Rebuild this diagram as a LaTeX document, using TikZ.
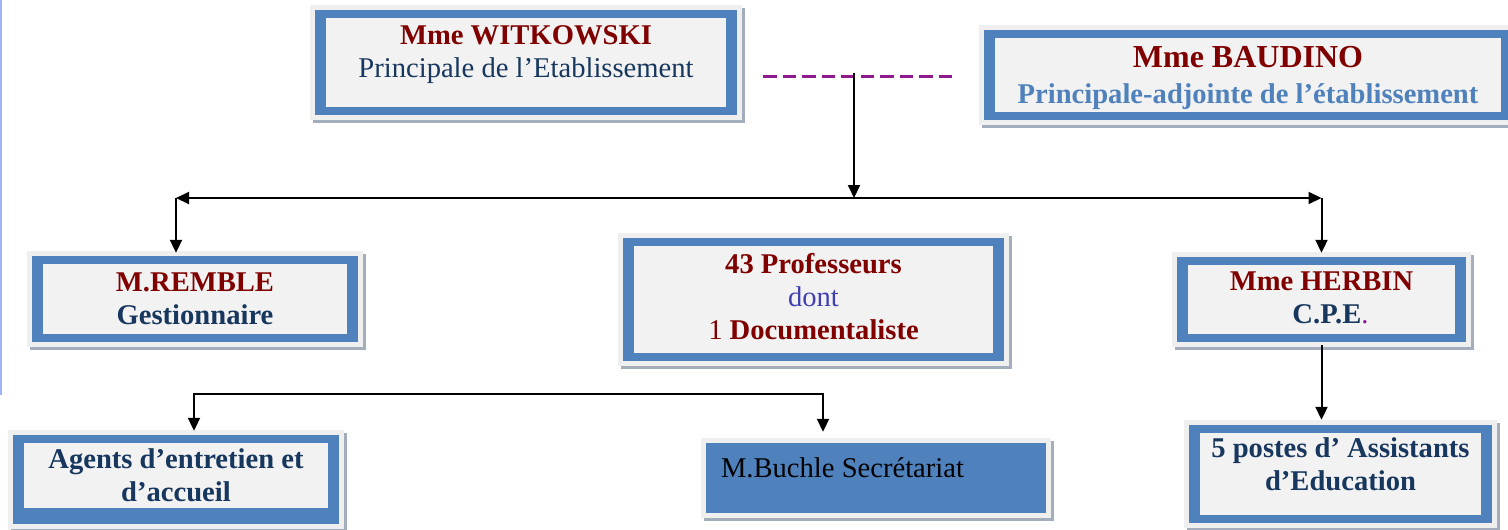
\documentclass[tikz,border=0pt]{standalone}
\usepackage{fontspec}
\setmainfont{Liberation Serif}
\usetikzlibrary{arrows.meta,calc}

\definecolor{boxblue}{HTML}{4F81BD}
\definecolor{boxgray}{HTML}{F2F2F2}
\definecolor{framegray}{HTML}{EFEFEF}
\definecolor{shadowgray}{HTML}{A3ADBC}
\definecolor{namered}{HTML}{800000}
\definecolor{titleblue}{HTML}{17375E}
\definecolor{dontblue}{HTML}{3F3FAF}
\definecolor{dashpurple}{HTML}{8E1A8E}
\definecolor{edgeblue}{HTML}{9DB3F5}

\newcommand{\headname}[1]{{\bfseries\color{namered}#1}}
\newcommand{\jobline}[1]{{\bfseries\color{titleblue}#1}}
\newcommand{\lowpad}[1]{\rule[-#1pt]{0pt}{1pt}}

\tikzset{inset bottom/.initial=8pt}

\begin{document}
\begin{tikzpicture}[x=1pt,y=-1pt,
  font=\fontsize{28.6pt}{33pt}\selectfont,
  >={Triangle[length=13pt,width=12pt]},
  frame/.style={rectangle,inner sep=0pt,fill=boxblue,
    preaction={fill=shadowgray,draw=shadowgray,line width=10pt,
      transform canvas={shift={(3pt,-3pt)}}},
    preaction={fill=framegray,draw=framegray,line width=10pt}},
  orgbox/.style={frame,align=center,
    path picture={\fill[boxgray]
      ($(path picture bounding box.south west)+(11pt,\pgfkeysvalueof{/tikz/inset bottom})$) rectangle
      ($(path picture bounding box.north east)+(-11pt,-8pt)$);}},
  link/.style={draw=black,line width=2pt},
  dashlink/.style={draw=dashpurple,line width=3pt,dash pattern=on 13.5pt off 6pt}]

  \useasboundingbox (0,0) rectangle (1508,530);
  \draw[edgeblue,line width=1.5pt] (0.75,0) -- (0.75,395);

  \node[orgbox,minimum width=422pt,minimum height=105pt] (witkowski) [at={(526,62.5)}]
    {\headname{Mme WITKOWSKI}\\{\color{titleblue}Principale de l’Etablissement}\lowpad{21}};
  \node[orgbox,minimum width=528pt,minimum height=90pt] (baudino) [at={(1248,75)}]
    {\rule{0pt}{28pt}{\fontsize{32pt}{36pt}\selectfont\headname{Mme BAUDINO}}\\[3pt]{\bfseries\color{boxblue}Principale-adjointe de l’établissement}};

  \node[orgbox,minimum width=326pt,minimum height=86pt] (remble) [at={(195,299)}]
    {\headname{M.REMBLE}\\\jobline{Gestionnaire}};
  \node[orgbox,minimum width=381pt,minimum height=123pt] (profs) [at={(813.5,299.5)}]
    {\headname{43 Professeurs}\\{\color{dontblue}dont}\\{\color{namered}1 \bfseries Documentaliste}\lowpad{6}};
  \node[orgbox,minimum width=289pt,minimum height=85pt] (herbin) [at={(1321.5,299.5)}]
    {\headname{Mme HERBIN}\\\hspace*{18pt}\jobline{C.P.E}{\color{dashpurple}.}\lowpad{3}};

  \node[orgbox,inset bottom=16pt,minimum width=326pt,minimum height=89pt] (agents) [at={(176,479.5)}]
    {\jobline{Agents d’entretien et}\\\jobline{d’accueil}\lowpad{9}};
  \node[frame,align=center,minimum width=340pt,minimum height=70pt] (buchle) [at={(876,478)}]
    {\makebox[310pt][l]{M.Buchle Secrétariat}\lowpad{21}};
  \node[orgbox,minimum width=303pt,minimum height=98pt] (assistants) [at={(1340.5,474)}]
    {\jobline{5 postes d’ Assistants}\\\jobline{d’Education}\lowpad{20}};

  \coordinate (dashL) at (763,76);
  \coordinate (dashR) at (955,76);
  \coordinate (fork) at (854,73);
  \coordinate (branch) at (854,198);
  \coordinate (branchL) at (176,198);
  \coordinate (branchR) at (branch -| herbin.north);
  \coordinate (lowL) at (194,394);
  \coordinate (lowR) at (823,394);

  \draw[dashlink] (dashL) -- (dashR);
  \draw[link,->] (fork) -- (branch);
  \draw[link,<->] (branchL) -- (branchR);
  \draw[link,->,shorten >=3pt] (branchL) -- (branchL |- remble.north);
  \draw[link,->,shorten >=4pt] (branchR) -- (branchR |- herbin.north);
  \draw[link,->,shorten <=3pt,shorten >=5pt] (herbin.south) -- (herbin.south |- assistants.north);
  \draw[link,<->,shorten <=4pt,shorten >=11pt] (lowL |- agents.north) -- (lowL) -- (lowR) -- (lowR |- buchle.north);

\end{tikzpicture}
\end{document}
